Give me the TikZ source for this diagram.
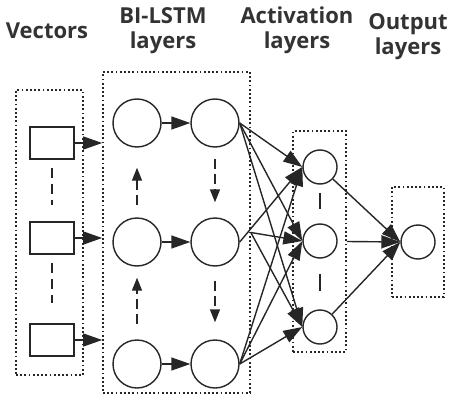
\documentclass[tikz,border=0pt]{standalone}
\usepackage{fontspec}
\setmainfont{Open Sans}
\usetikzlibrary{arrows.meta}
\begin{document}
\begin{tikzpicture}[x=1pt,y=-1pt,line width=1.4pt,draw=black!85,
  cell/.style={circle,draw,minimum size=48pt,inner sep=0pt},
  unit/.style={circle,draw,minimum size=34pt,inner sep=0pt},
  vec/.style={rectangle,draw,minimum width=44pt,minimum height=32pt,inner sep=0pt},
  group/.style={draw,line width=1.6pt,dash pattern=on 1.8pt off 2.4pt,inner sep=0pt},
  title/.style={font=\bfseries\fontsize{22}{25}\selectfont,align=center,text=black!80,inner sep=0pt},
  link/.style={-{Triangle[length=19pt,width=13pt]}},
  back/.style={-{Triangle[length=13pt,width=10pt]},dash pattern=on 10pt off 5pt},
  gap/.style={dash pattern=on 10pt off 6pt}]
  \useasboundingbox (0,0) rectangle (460,404);

  \node[title] (tv) at (47,30.5) {Vectors};
  \node[title] (tb) at (163,31) {BI-LSTM\\layers};
  \node[title] (ta) at (297,30.5) {Activation\\layers};
  \node[title] (to) at (408,37) {Output\\layers};

  \node[group,minimum width=67pt,minimum height=285pt] (vbox) at (49.5,232.5) {};
  \node[group,minimum width=147pt,minimum height=321pt] (lbox) at (176.5,232.5) {};
  \node[group,minimum width=53pt,minimum height=221pt] (abox) at (319.5,241.5) {};
  \node[group,minimum width=52pt,minimum height=110pt] (obox) at (418,242) {};

  \node[vec] (v1) at (52,143) {};
  \node[vec] (v2) at (52,238) {};
  \node[vec] (v3) at (52,340) {};
  \draw[gap,shorten <=8pt,shorten >=16pt] (v1) -- (v2);
  \draw[gap,shorten <=8pt,shorten >=20pt] (v2) -- (v3);

  \node[cell] (f1) at (137,123) {};
  \node[cell] (f2) at (137,242) {};
  \node[cell] (f3) at (137,364) {};
  \node[cell] (b1) at (215,123) {};
  \node[cell] (b2) at (215,242) {};
  \node[cell] (b3) at (215,364) {};

  \node[unit] (a1) at (320,167) {};
  \node[unit] (a2) at (320,241) {};
  \node[unit] (a3) at (320,327) {};
  \draw[shorten <=8pt,shorten >=14pt] (a1) -- (a2);
  \draw[shorten <=15pt,shorten >=18pt] (a2) -- (a3);

  \node[unit] (o) at (418,242) {};

  \draw[link] (v1.east) -- (lbox.west |- v1.east);
  \draw[link] (v2.east) -- (lbox.west |- v2.east);
  \draw[link] (v3.east) -- (lbox.west |- v3.east);

  \draw[link] (f1) -- (b1);
  \draw[link] (f2) -- (b2);
  \draw[link] (f3) -- (b3);

  \draw[back,shorten <=12pt,shorten >=20pt] (f2) -- (f1);
  \draw[back,shorten <=15pt,shorten >=11pt] (f3) -- (f2);
  \draw[back,shorten <=11pt,shorten >=15pt] (b1) -- (b2);
  \draw[back,shorten <=14pt,shorten >=17pt] (b2) -- (b3);

  \foreach \a in {a1,a2,a3} {
    \draw[link] (b1.east) -- (\a.west);
    \draw[link] (b3.east) -- (\a.west);
  }
  \draw[link] (b2.east) -- (a1.west);
  \draw[link] (lbox.east) -- (a2.west);
  \draw[link] (lbox.east) -- (a3.west);

  \draw[link] (a1) -- (o.west);
  \draw[link] (abox.east) -- (o.west);
  \draw[link] (a3) -- (o.west);
\end{tikzpicture}
\end{document}
